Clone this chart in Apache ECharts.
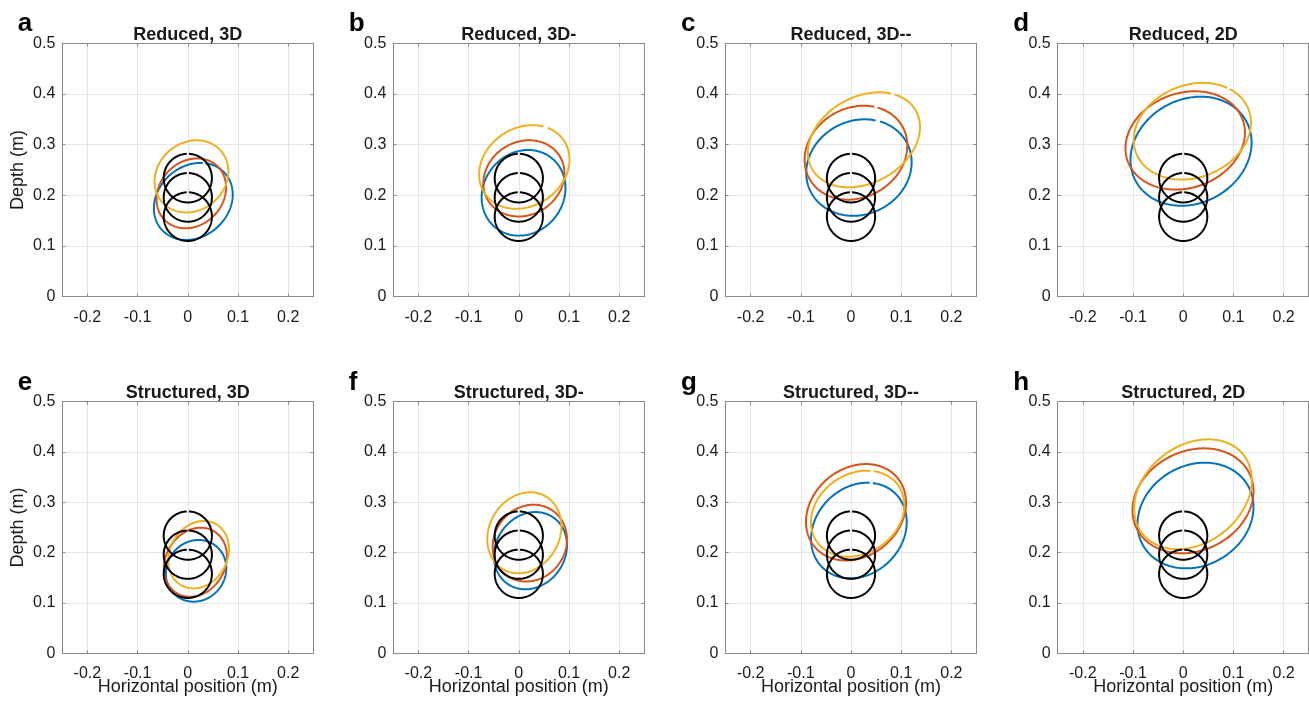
<!DOCTYPE html>
<html>
<head>
<meta charset="utf-8">
<title>Trajectories</title>
<script src="https://cdn.jsdelivr.net/npm/echarts@6/dist/echarts.min.js"></script>
<style>
  html, body { margin: 0; padding: 0; background: #fff; }
  #main { width: 1309px; height: 706px; }
</style>
</head>
<body>
<div id="main"></div>
<script>
// panel letters and titles
var panelLetters = ['a', 'b', 'c', 'd', 'e', 'f', 'g', 'h'];
var panelTitles = [
    'Reduced, 3D', 'Reduced, 3D-', 'Reduced, 3D--', 'Reduced, 2D',
    'Structured, 3D', 'Structured, 3D-', 'Structured, 3D--', 'Structured, 2D'
];

// tick labels
var xTicks = [-0.2, -0.1, 0, 0.1, 0.2];
var yTicks = [0, 0.1, 0.2, 0.3, 0.4, 0.5];

// one loop = [centre x, centre y, half width, half height, y shift of rightmost point, gap angle (deg), gap size (deg)]
// black reference circles, the same in every panel
var refCircles = [
    [0, 0.158, 0.048, 0.048, 0, 90, 5],
    [0, 0.196, 0.048, 0.048, 0, 90, 5],
    [0, 0.234, 0.048, 0.048, 0, 90, 5]
];

// measured loops, one per panel a..h
var blueLoops = [
    [0.0110, 0.1880, 0.0785, 0.0760, 0.0137, 74, 4],
    [0.0095, 0.2050, 0.0835, 0.0845, 0.0093, 70, 0],
    [0.0158, 0.2548, 0.1050, 0.0952, 0.0105, 69, 5],
    [0.0156, 0.2871, 0.1206, 0.1076, 0.0172, 60, 0],
    [0.0165, 0.1639, 0.0602, 0.0613, 0.0050, 80, 0],
    [0.0232, 0.2040, 0.0728, 0.0767, 0.0107, 80, 0],
    [0.0157, 0.2440, 0.0953, 0.0950, 0.0170, 75, 4],
    [0.0245, 0.2738, 0.1155, 0.1050, 0.0168, 70, 0]
];
var redLoops = [
    [0.0070, 0.2039, 0.0693, 0.0689, 0.0117, 70, 0],
    [0.0102, 0.2335, 0.0808, 0.0752, 0.0098, 70, 0],
    [0.0099, 0.2841, 0.1023, 0.0927, 0.0139, 67, 4],
    [0.0040, 0.3083, 0.1190, 0.0970, 0.0155, 60, 0],
    [0.0152, 0.1810, 0.0628, 0.0686, 0.0117, 70, 0],
    [0.0220, 0.2190, 0.0740, 0.0763, 0.0076, 70, 0],
    [0.0100, 0.2803, 0.0997, 0.0958, 0.0190, 70, 0],
    [0.0195, 0.3030, 0.1205, 0.1043, 0.0188, 70, 0]
];
var yellowLoops = [
    [0.0073, 0.2374, 0.0735, 0.0712, 0.0100, 20, 0],
    [0.0110, 0.2560, 0.0900, 0.0825, 0.0149, 62, 6],
    [0.0258, 0.3096, 0.1116, 0.0937, 0.0253, 59, 4.5],
    [0.0182, 0.3265, 0.1167, 0.0954, 0.0172, 52, 3],
    [0.0215, 0.1960, 0.0605, 0.0670, 0.0114, 70, 0],
    [0.0110, 0.2395, 0.0738, 0.0805, 0.0129, 70, 0],
    [0.0133, 0.2775, 0.0930, 0.0855, 0.0170, 72, 4],
    [0.0195, 0.3161, 0.1172, 0.1091, 0.0283, 70, 0]
];

var FONT = '"Liberation Sans", Arial, Helvetica, sans-serif';
var boxColor = '#8a8a8a';
var gridColor = '#e6e6e6';
var textColor = '#1a1a1a';

// layout of the 2 x 4 panels
var colLeft = [62.3, 393.3, 725.5, 1057.7];
var rowTop = [43.3, 401.7];
var rowHeight = [253.4, 251.6];
var plotWidth = 251;

function tickText(v) {
    return String(+(+v).toFixed(2));
}

// draws one loop through the axis scales
function loopRenderer(color) {
    return function (params, api) {
        var cx = api.value(0), cy = api.value(1);
        var w = api.value(2), h = api.value(3), dy = api.value(4);
        var gapAt = api.value(5), gap = api.value(6);
        var psi = Math.acos(Math.max(-1, Math.min(1, dy / h)));
        var start = (gapAt + gap / 2) * Math.PI / 180;
        var span = (360 - gap) * Math.PI / 180;
        var pts = [];
        for (var i = 0; i <= 240; i++) {
            var t = start + span * i / 240;
            pts.push(api.coord([cx + w * Math.cos(t), cy + h * Math.cos(t - psi)]));
        }
        return {
            type: 'polyline',
            shape: { points: pts },
            style: { stroke: color, lineWidth: 2, fill: 'none', lineJoin: 'round' }
        };
    };
}

function buildOption() {
    var grids = [], xAxes = [], yAxes = [], series = [], graphics = [];

    for (var i = 0; i < 8; i++) {
        var col = i % 4, row = Math.floor(i / 4);
        var left = colLeft[col], top = rowTop[row], h = rowHeight[row];

        grids.push({ left: left, top: top, width: plotWidth, height: h });

        // bottom x axis with labels, top one only for the box and ticks
        xAxes.push({
            type: 'value', gridIndex: i, min: -0.25, max: 0.25, position: 'bottom',
            axisLine: { onZero: false, lineStyle: { color: boxColor, width: 1 } },
            axisTick: { inside: true, length: 3, lineStyle: { color: boxColor, width: 1 }, customValues: xTicks.slice() },
            axisLabel: { margin: 12.5, color: textColor, fontSize: 16, fontFamily: FONT, formatter: tickText, customValues: xTicks.slice() },
            splitLine: { show: true, lineStyle: { color: gridColor, width: 1 } }
        });
        xAxes.push({
            type: 'value', gridIndex: i, min: -0.25, max: 0.25, position: 'top',
            axisLine: { onZero: false, lineStyle: { color: boxColor, width: 1 } },
            axisTick: { inside: true, length: 3, lineStyle: { color: boxColor, width: 1 }, customValues: xTicks.slice() },
            axisLabel: { show: false },
            splitLine: { show: false }
        });
        yAxes.push({
            type: 'value', gridIndex: i, min: 0, max: 0.5, interval: 0.1, position: 'left',
            axisLine: { show: true, onZero: false, lineStyle: { color: boxColor, width: 1 } },
            axisTick: { show: true, inside: true, length: 3, lineStyle: { color: boxColor, width: 1 } },
            axisLabel: { margin: 7, color: textColor, fontSize: 16, fontFamily: FONT, formatter: tickText },
            splitLine: { show: true, lineStyle: { color: gridColor, width: 1 } }
        });
        yAxes.push({
            type: 'value', gridIndex: i, min: 0, max: 0.5, interval: 0.1, position: 'right',
            axisLine: { show: true, onZero: false, lineStyle: { color: boxColor, width: 1 } },
            axisTick: { show: true, inside: true, length: 3, lineStyle: { color: boxColor, width: 1 } },
            axisLabel: { show: false },
            splitLine: { show: false }
        });

        var loopSets = [
            ['#0072BD', [blueLoops[i]]],
            ['#D95319', [redLoops[i]]],
            ['#EDB120', [yellowLoops[i]]],
            ['#000000', refCircles]
        ];
        for (var k = 0; k < loopSets.length; k++) {
            series.push({
                type: 'custom',
                xAxisIndex: 2 * i,
                yAxisIndex: 2 * i,
                renderItem: loopRenderer(loopSets[k][0]),
                data: loopSets[k][1],
                silent: true
            });
        }

        // title, panel letter
        graphics.push({
            type: 'text', x: left + plotWidth / 2, y: top - 8.5,
            style: { text: panelTitles[i], font: 'bold 18px ' + FONT, fill: textColor, align: 'center', verticalAlign: 'middle' }
        });
        graphics.push({
            type: 'text', x: left - 44.5, y: top - 19,
            style: { text: panelLetters[i], font: 'bold 26px ' + FONT, fill: '#000', align: 'left', verticalAlign: 'middle' }
        });
        if (col === 0) {
            graphics.push({
                type: 'text', x: 18, y: top + h / 2, rotation: Math.PI / 2,
                style: { text: 'Depth (m)', font: '18px ' + FONT, fill: textColor, align: 'center', verticalAlign: 'middle' }
            });
        }
        if (row === 1) {
            graphics.push({
                type: 'text', x: left + plotWidth / 2, y: 687,
                style: { text: 'Horizontal position (m)', font: '18px ' + FONT, fill: textColor, align: 'center', verticalAlign: 'middle' }
            });
        }
    }

    return {
        backgroundColor: '#fff',
        animation: false,
        grid: grids,
        xAxis: xAxes,
        yAxis: yAxes,
        series: series,
        graphic: graphics
    };
}

var myChart = echarts.init(document.getElementById('main'));
myChart.setOption(buildOption());
</script>
</body>
</html>
